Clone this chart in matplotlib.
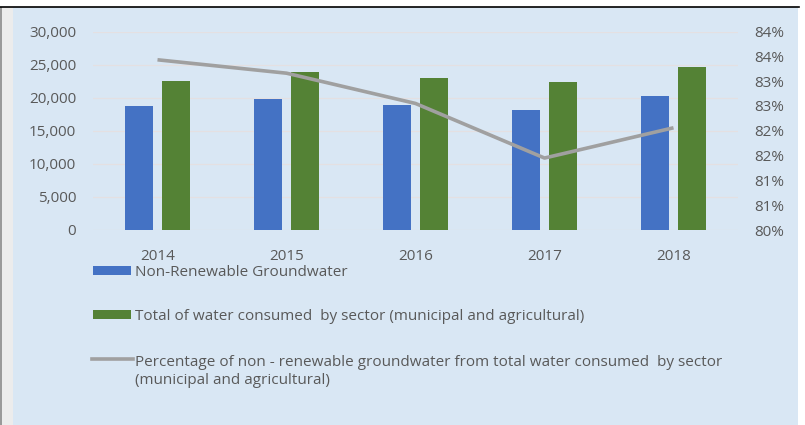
import numpy as np
import matplotlib
matplotlib.use("Agg")
import matplotlib.pyplot as plt
from matplotlib.patches import Rectangle
from matplotlib.lines import Line2D

plt.rcParams["font.family"] = ["Open Sans", "DejaVu Sans"]

# water use by year
years = ["2014", "2015", "2016", "2017", "2018"]
non_renewable = [18700, 19800, 18900, 18200, 20200]
total_consumed = [22500, 23900, 22900, 22300, 24600]
pct_non_renewable = [83.43, 83.16, 82.55, 81.45, 82.06]

left_ticks = [0, 5000, 10000, 15000, 20000, 25000, 30000]
left_labels = ["0", "5,000", "10,000", "15,000", "20,000", "25,000", "30,000"]
right_ticks = [80, 80.5, 81, 81.5, 82, 82.5, 83, 83.5, 84]
right_labels = ["80%", "81%", "81%", "82%", "82%", "83%", "83%", "84%", "84%"]

legend_labels = [
    "Non-Renewable Groundwater",
    "Total of water consumed  by sector (municipal and agricultural)",
    "Percentage of non - renewable groundwater from total water consumed  by sector\n(municipal and agricultural)",
]

BLUE = "#4472c4"
GREEN = "#548235"
GREY_LINE = "#a0a0a0"
TEXT = "#595959"
BG = "#d9e7f4"

W, H = 805, 425
fig = plt.figure(figsize=(W / 100, H / 100), dpi=100, facecolor="white")


def fx(x):
    return x / W


def fy(y):
    return 1 - y / H


# frame: grey strip on the left, blue panel, black rule on top
fig.patches.append(Rectangle((0, 0), fx(13), fy(7), transform=fig.transFigure,
                             facecolor="#ececec", edgecolor="none", zorder=-3))
fig.patches.append(Rectangle((0, 0), fx(1.5), fy(7), transform=fig.transFigure,
                             facecolor="#9a9a9a", edgecolor="none", zorder=-3))
fig.patches.append(Rectangle((fx(13), 0), fx(798 - 13), fy(7), transform=fig.transFigure,
                             facecolor=BG, edgecolor="none", zorder=-3))
fig.lines.append(Line2D([0, fx(799)], [fy(6.5), fy(6.5)], transform=fig.transFigure,
                        color="black", lw=1.2, zorder=-2))

ax = fig.add_axes([fx(93), fy(230), fx(738 - 93), fy(31.5) - fy(230)])
ax.set_facecolor("none")
x = np.arange(len(years))
bw = 0.22
ax.bar(x - 0.145, non_renewable, bw, color=BLUE, zorder=3)
ax.bar(x + 0.145, total_consumed, bw, color=GREEN, zorder=3)
ax.set_xlim(-0.5, len(years) - 0.5)
ax.set_ylim(0, 30000)
ax.set_yticks(left_ticks)
ax.set_yticklabels(left_labels)
ax.set_xticks(x)
ax.set_xticklabels(years)
ax.grid(axis="y", color="#e4e0e2", lw=0.9, zorder=0)
ax.tick_params(axis="y", length=0, pad=12, labelsize=11, labelcolor=TEXT)
ax.tick_params(axis="x", length=0, pad=14, labelsize=11, labelcolor=TEXT)
for s in ax.spines.values():
    s.set_visible(False)

ax2 = ax.twinx()
ax2.plot(x, pct_non_renewable, color=GREY_LINE, lw=2.6, zorder=4, solid_capstyle="butt")
ax2.set_ylim(80, 84)
ax2.set_yticks(right_ticks)
ax2.set_yticklabels(right_labels)
ax2.tick_params(axis="y", length=0, pad=12, labelsize=11, labelcolor=TEXT)
for s in ax2.spines.values():
    s.set_visible(False)

# legend below the plot, one entry per row
rows_y = [271, 315, 361]
tr = fig.transFigure
fig.patches.append(Rectangle((fx(93), fy(275)), fx(38), 9 / H, transform=tr,
                             facecolor=BLUE, edgecolor="none"))
fig.patches.append(Rectangle((fx(93), fy(319)), fx(38), 9 / H, transform=tr,
                             facecolor=GREEN, edgecolor="none"))
fig.lines.append(Line2D([fx(92), fx(133)], [fy(359), fy(359)], transform=tr,
                        color=GREY_LINE, lw=2.6))
for label, y in zip(legend_labels, rows_y):
    fig.text(fx(135), fy(y - 6), label, transform=tr, ha="left", va="top",
             fontsize=11, color=TEXT, linespacing=1.3)

fig.savefig("out.png", dpi=100, facecolor="white")
